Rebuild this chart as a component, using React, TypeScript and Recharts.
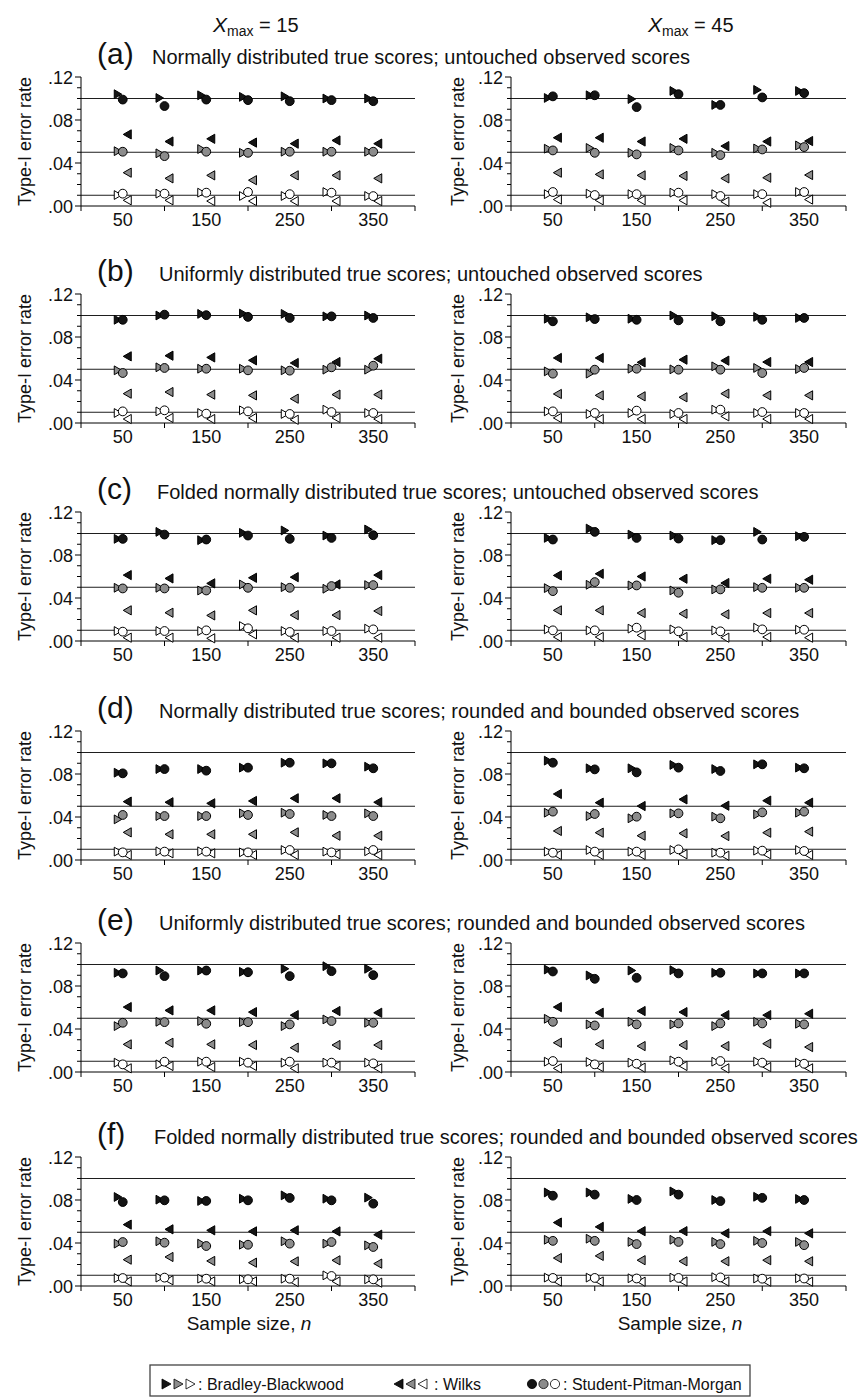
import React from "react";
import { ScatterChart, Scatter, XAxis, YAxis, ReferenceLine } from "recharts";

// sample sizes n and the three nominal alpha levels (.10, .05, .01)
const sampleSizes = [50, 100, 150, 200, 250, 300, 350];
const nominalRates = [0.1, 0.05, 0.01];
const xTicks = [0, 50, 100, 150, 200, 250, 300, 350, 400];
const yTicks = [0, 0.01, 0.02, 0.03, 0.04, 0.05, 0.06, 0.07, 0.08, 0.09, 0.1, 0.11, 0.12];
const levelFills = ["#151515", "#8c8c8c", "#ffffff"];
const columnMax = ["15", "45"];

const panelLetters = ["a", "b", "c", "d", "e", "f"];
const panelTitles = [
  "Normally distributed true scores; untouched observed scores",
  "Uniformly distributed true scores; untouched observed scores",
  "Folded normally distributed true scores; untouched observed scores",
  "Normally distributed true scores; rounded and bounded observed scores",
  "Uniformly distributed true scores; rounded and bounded observed scores",
  "Folded normally distributed true scores; rounded and bounded observed scores",
];

// each array: rows = alpha .10, .05, .01 ; columns = n 50..350
// (a) Xmax = 15
const a15BB = [
  [0.104, 0.1005, 0.103, 0.1015, 0.102, 0.1, 0.1],
  [0.051, 0.049, 0.053, 0.0495, 0.0505, 0.0505, 0.0505],
  [0.0102, 0.0115, 0.0124, 0.0093, 0.0093, 0.013, 0.0093],
];
const a15Wilks = [
  [0.0666, 0.06, 0.0625, 0.059, 0.058, 0.061, 0.058],
  [0.031, 0.0257, 0.0285, 0.024, 0.0285, 0.0285, 0.0257],
  [0.0053, 0.0053, 0.0046, 0.0046, 0.0046, 0.0046, 0.0046],
];
const a15SPM = [
  [0.099, 0.093, 0.099, 0.0985, 0.0975, 0.0985, 0.0975],
  [0.0505, 0.0464, 0.0505, 0.0495, 0.0505, 0.0505, 0.0505],
  [0.0115, 0.0115, 0.0124, 0.013, 0.011, 0.0124, 0.0092],
];
// (a) Xmax = 45
const a45BB = [
  [0.1005, 0.103, 0.0995, 0.107, 0.094, 0.108, 0.107],
  [0.0533, 0.054, 0.0495, 0.054, 0.0495, 0.0535, 0.0563],
  [0.011, 0.0115, 0.011, 0.0124, 0.011, 0.011, 0.013],
];
const a45Wilks = [
  [0.0635, 0.0635, 0.06, 0.0625, 0.0557, 0.06, 0.0604],
  [0.031, 0.0294, 0.0285, 0.028, 0.0257, 0.0263, 0.0288],
  [0.006, 0.0053, 0.0053, 0.0053, 0.004, 0.003, 0.006],
];
const a45SPM = [
  [0.102, 0.103, 0.092, 0.104, 0.094, 0.101, 0.105],
  [0.0517, 0.0495, 0.048, 0.0517, 0.0474, 0.0526, 0.0548],
  [0.013, 0.0102, 0.011, 0.0124, 0.0093, 0.011, 0.013],
];
// (b) Xmax = 15
const b15BB = [
  [0.096, 0.1, 0.1015, 0.1018, 0.1015, 0.0992, 0.1],
  [0.049, 0.0518, 0.0505, 0.0505, 0.049, 0.0496, 0.0496],
  [0.0093, 0.0108, 0.0093, 0.0118, 0.0084, 0.0124, 0.0093],
];
const b15Wilks = [
  [0.062, 0.0626, 0.061, 0.0583, 0.0558, 0.0567, 0.0598],
  [0.0273, 0.0288, 0.0264, 0.0257, 0.0226, 0.0264, 0.0264],
  [0.0037, 0.0047, 0.0037, 0.0047, 0.003, 0.0047, 0.0037],
];
const b15SPM = [
  [0.096, 0.1008, 0.1003, 0.0987, 0.0977, 0.0992, 0.0977],
  [0.0465, 0.0512, 0.0505, 0.049, 0.0487, 0.0518, 0.0533],
  [0.0108, 0.0118, 0.0087, 0.0108, 0.0084, 0.0102, 0.0093],
];
// (b) Xmax = 45
const b45BB = [
  [0.097, 0.0983, 0.097, 0.1, 0.0993, 0.0987, 0.0977],
  [0.048, 0.0459, 0.0505, 0.0499, 0.0527, 0.0512, 0.0502],
  [0.0108, 0.0084, 0.0093, 0.0084, 0.0124, 0.0093, 0.0093],
];
const b45Wilks = [
  [0.0605, 0.0605, 0.0564, 0.0589, 0.058, 0.0567, 0.0567],
  [0.027, 0.0257, 0.0248, 0.0239, 0.0273, 0.0257, 0.0257],
  [0.0047, 0.0037, 0.0037, 0.0037, 0.0062, 0.0037, 0.0037],
];
const b45SPM = [
  [0.0946, 0.0967, 0.096, 0.0955, 0.0946, 0.096, 0.0977],
  [0.0459, 0.0496, 0.0505, 0.0496, 0.0496, 0.0465, 0.0512],
  [0.0108, 0.0093, 0.0115, 0.0093, 0.0124, 0.0102, 0.0093],
];
// (c) Xmax = 15
const c15BB = [
  [0.095, 0.1015, 0.0938, 0.1006, 0.1028, 0.0981, 0.1037],
  [0.0495, 0.0495, 0.047, 0.0526, 0.0501, 0.0486, 0.052],
  [0.0093, 0.0093, 0.0093, 0.0139, 0.0093, 0.0093, 0.0115],
];
const c15Wilks = [
  [0.0613, 0.0582, 0.0536, 0.0588, 0.0594, 0.0526, 0.0613],
  [0.0285, 0.0263, 0.0238, 0.0285, 0.0241, 0.0241, 0.0279],
  [0.0031, 0.0031, 0.0025, 0.0062, 0.0031, 0.0031, 0.0031],
];
const c15SPM = [
  [0.095, 0.099, 0.0944, 0.0981, 0.095, 0.0959, 0.0984],
  [0.0489, 0.0489, 0.047, 0.0495, 0.0495, 0.0511, 0.052],
  [0.0087, 0.0093, 0.0099, 0.0118, 0.0084, 0.0093, 0.0108],
];
// (c) Xmax = 45
const c45BB = [
  [0.0959, 0.1046, 0.099, 0.0981, 0.0938, 0.1015, 0.0975],
  [0.0492, 0.0523, 0.0517, 0.047, 0.048, 0.0501, 0.0495],
  [0.0108, 0.0099, 0.0115, 0.0108, 0.0099, 0.0124, 0.0105],
];
const c45Wilks = [
  [0.061, 0.0625, 0.06, 0.0579, 0.0539, 0.0579, 0.057],
  [0.0285, 0.0285, 0.026, 0.0254, 0.0248, 0.026, 0.026],
  [0.0037, 0.0037, 0.0053, 0.0037, 0.0031, 0.0037, 0.0031],
];
const c45SPM = [
  [0.0944, 0.1015, 0.0959, 0.0953, 0.0938, 0.0944, 0.0969],
  [0.0464, 0.0548, 0.0517, 0.0449, 0.048, 0.0495, 0.0495],
  [0.0099, 0.0099, 0.0124, 0.009, 0.009, 0.0108, 0.0105],
];
// (d) Xmax = 15
const d15BB = [
  [0.0812, 0.0846, 0.0846, 0.0859, 0.0905, 0.0899, 0.0868],
  [0.0378, 0.0409, 0.0409, 0.0434, 0.044, 0.0419, 0.0434],
  [0.0078, 0.0081, 0.0081, 0.0071, 0.0093, 0.0078, 0.0081],
];
const d15Wilks = [
  [0.0543, 0.0537, 0.0527, 0.0549, 0.0574, 0.0574, 0.0537],
  [0.0257, 0.0239, 0.0239, 0.0239, 0.0257, 0.0226, 0.0226],
  [0.0047, 0.0062, 0.0062, 0.0047, 0.0047, 0.0053, 0.0047],
];
const d15SPM = [
  [0.0806, 0.0846, 0.0831, 0.0859, 0.0905, 0.0899, 0.0853],
  [0.0419, 0.0409, 0.0409, 0.0419, 0.0428, 0.0409, 0.0409],
  [0.0071, 0.0078, 0.0078, 0.0071, 0.0093, 0.0071, 0.0093],
];
// (d) Xmax = 45
const d45BB = [
  [0.0924, 0.0853, 0.0853, 0.0884, 0.0846, 0.089, 0.0859],
  [0.044, 0.0409, 0.0388, 0.0434, 0.0403, 0.0425, 0.044],
  [0.0078, 0.0093, 0.0078, 0.0093, 0.0068, 0.0087, 0.0093],
];
const d45Wilks = [
  [0.0614, 0.0533, 0.0502, 0.0564, 0.0505, 0.0552, 0.0533],
  [0.027, 0.0254, 0.0226, 0.0248, 0.0223, 0.0254, 0.0264],
  [0.0047, 0.0047, 0.0047, 0.0053, 0.004, 0.0053, 0.0047],
];
const d45SPM = [
  [0.0905, 0.0843, 0.0815, 0.0859, 0.0828, 0.089, 0.0853],
  [0.045, 0.0428, 0.0403, 0.0434, 0.0388, 0.0443, 0.045],
  [0.0068, 0.0078, 0.0078, 0.0099, 0.0068, 0.0087, 0.0084],
];
// (e) Xmax = 15
const e15BB = [
  [0.0923, 0.0944, 0.0944, 0.0932, 0.096, 0.0984, 0.096],
  [0.0427, 0.0467, 0.0474, 0.0464, 0.0427, 0.0489, 0.0458],
  [0.0087, 0.0071, 0.0096, 0.0096, 0.0087, 0.0087, 0.0087],
];
const e15Wilks = [
  [0.0604, 0.0573, 0.0573, 0.0557, 0.0529, 0.0567, 0.0551],
  [0.0257, 0.0272, 0.0257, 0.0251, 0.0226, 0.0251, 0.0251],
  [0.0034, 0.0056, 0.0046, 0.0056, 0.0034, 0.0056, 0.0034],
];
const e15SPM = [
  [0.0917, 0.0892, 0.0944, 0.0928, 0.0892, 0.0938, 0.0901],
  [0.0458, 0.0464, 0.0449, 0.0464, 0.0443, 0.0474, 0.0458],
  [0.0071, 0.0096, 0.0096, 0.0087, 0.0096, 0.0087, 0.008],
];
// (e) Xmax = 45
const e45BB = [
  [0.0953, 0.0898, 0.0944, 0.0947, 0.0923, 0.0917, 0.0917],
  [0.0495, 0.0443, 0.0467, 0.0443, 0.0427, 0.0467, 0.0449],
  [0.0096, 0.0093, 0.0087, 0.0108, 0.0096, 0.0096, 0.0087],
];
const e45Wilks = [
  [0.0604, 0.0551, 0.0567, 0.0557, 0.0529, 0.0529, 0.0542],
  [0.0272, 0.0257, 0.0241, 0.0251, 0.0241, 0.0263, 0.0232],
  [0.0034, 0.0046, 0.004, 0.0056, 0.0034, 0.0046, 0.0034],
];
const e45SPM = [
  [0.0935, 0.0867, 0.0876, 0.0917, 0.0923, 0.0917, 0.0917],
  [0.0467, 0.0433, 0.0443, 0.0452, 0.0452, 0.0452, 0.0443],
  [0.0102, 0.0071, 0.0077, 0.0096, 0.0102, 0.0087, 0.0077],
];
// (f) Xmax = 15
const f15BB = [
  [0.0828, 0.0803, 0.0791, 0.0812, 0.0843, 0.0812, 0.0822],
  [0.0394, 0.0416, 0.0394, 0.0384, 0.0416, 0.0394, 0.0378],
  [0.0074, 0.0078, 0.0068, 0.0062, 0.0068, 0.0099, 0.0062],
];
const f15Wilks = [
  [0.0571, 0.0527, 0.0518, 0.0508, 0.0518, 0.0508, 0.0477],
  [0.0245, 0.027, 0.0233, 0.0217, 0.0229, 0.0239, 0.0208],
  [0.0043, 0.0053, 0.0043, 0.0043, 0.0037, 0.0043, 0.0031],
];
const f15SPM = [
  [0.0781, 0.0797, 0.0791, 0.0797, 0.0819, 0.0797, 0.0766],
  [0.0409, 0.0403, 0.0372, 0.0384, 0.0394, 0.0409, 0.0363],
  [0.0074, 0.0078, 0.0068, 0.0062, 0.0068, 0.0093, 0.0062],
];
// (f) Xmax = 45
const f45BB = [
  [0.087, 0.087, 0.081, 0.088, 0.08, 0.083, 0.081],
  [0.043, 0.044, 0.041, 0.043, 0.041, 0.042, 0.041],
  [0.0078, 0.0078, 0.0072, 0.0078, 0.0082, 0.007, 0.0072],
];
const f45Wilks = [
  [0.059, 0.055, 0.051, 0.051, 0.049, 0.051, 0.049],
  [0.026, 0.028, 0.024, 0.023, 0.023, 0.024, 0.023],
  [0.0042, 0.0042, 0.004, 0.0042, 0.0042, 0.004, 0.004],
];
const f45SPM = [
  [0.084, 0.085, 0.08, 0.085, 0.079, 0.082, 0.08],
  [0.042, 0.042, 0.039, 0.041, 0.039, 0.04, 0.038],
  [0.0075, 0.0075, 0.007, 0.0075, 0.008, 0.0068, 0.007],
];

const panelSets = [
  [{ bb: a15BB, wilks: a15Wilks, spm: a15SPM }, { bb: a45BB, wilks: a45Wilks, spm: a45SPM }],
  [{ bb: b15BB, wilks: b15Wilks, spm: b15SPM }, { bb: b45BB, wilks: b45Wilks, spm: b45SPM }],
  [{ bb: c15BB, wilks: c15Wilks, spm: c15SPM }, { bb: c45BB, wilks: c45Wilks, spm: c45SPM }],
  [{ bb: d15BB, wilks: d15Wilks, spm: d15SPM }, { bb: d45BB, wilks: d45Wilks, spm: d45SPM }],
  [{ bb: e15BB, wilks: e15Wilks, spm: e15SPM }, { bb: e45BB, wilks: e45Wilks, spm: e45SPM }],
  [{ bb: f15BB, wilks: f15Wilks, spm: f15SPM }, { bb: f45BB, wilks: f45Wilks, spm: f45SPM }],
];

// layout: y of the .12 gridline for each row, title text x
const rowTops = [77, 294, 512, 731, 943, 1157];
const titleTextX = [152, 159, 157, 159, 159, 154];
const FONT = '"Liberation Sans", Arial, Helvetica, sans-serif';

// markers: BB sits left of n, Wilks right of n, circle on n
const BBMarker = ({ cx, cy, fill }: any) => (
  <path d={`M${cx - 8.5},${cy - 4.4} L${cx - 1},${cy} L${cx - 8.5},${cy + 4.4} Z`} fill={fill} stroke="#000" strokeWidth={1} />
);
const WilksMarker = ({ cx, cy, fill }: any) => (
  <path d={`M${cx + 8.5},${cy - 4.6} L${cx + 0.5},${cy} L${cx + 8.5},${cy + 4.6} Z`} fill={fill} stroke="#000" strokeWidth={1} />
);
const SPMMarker = ({ cx, cy, fill }: any) => (
  <circle cx={cx} cy={cy} r={4.4} fill={fill} stroke="#000" strokeWidth={1} />
);

const renderXTick = (props: any) => {
  const { x, y, payload } = props;
  if (payload.value % 100 === 0) return <line x1={x} x2={x} y1={y} y2={y + 5} stroke="#000" />;
  return (
    <text x={x} y={y + 20} textAnchor="middle" fontSize={18} fill="#111" fontFamily={FONT}>
      {payload.value}
    </text>
  );
};

const renderYTick = (props: any) => {
  const { x, y, payload } = props;
  const h = Math.round(payload.value * 100);
  const major = h % 4 === 0;
  return (
    <g>
      <line x1={x - (major ? 6 : 4)} x2={x} y1={y} y2={y} stroke="#000" />
      {major && (
        <text x={x - 8} y={y + 6.5} textAnchor="end" fontSize={18} fill="#111" fontFamily={FONT}>
          {"." + String(h).padStart(2, "0")}
        </text>
      )}
    </g>
  );
};

const renderYLabel = (props: any) => {
  const vb = props.viewBox;
  const x = vb.x + 25;
  const y = vb.y + vb.height / 2;
  return (
    <text x={x} y={y} transform={`rotate(-90 ${x} ${y})`} textAnchor="middle" dominantBaseline="central"
      fontSize={18} fill="#111" fontFamily={FONT}>
      Type-I error rate
    </text>
  );
};

const Panel = ({ sets, col, top }: any) => {
  const series = [
    { key: "bb", Shape: BBMarker, rows: sets.bb },
    { key: "wilks", Shape: WilksMarker, rows: sets.wilks },
    { key: "spm", Shape: SPMMarker, rows: sets.spm },
  ];
  return (
    <div style={{ position: "absolute", left: col * 433, top: top - 10 }}>
      <ScatterChart width={433} height={171} margin={{ top: 10, right: col ? 20 : 18, bottom: 0, left: 0 }}>
        <XAxis type="number" dataKey="n" domain={[0, 400]} ticks={xTicks} interval={0} tick={renderXTick}
          tickLine={false} tickSize={0} tickMargin={0} height={32} axisLine={{ stroke: "#000" }} />
        <YAxis type="number" dataKey="v" domain={[0, 0.12]} ticks={yTicks} interval={0} tick={renderYTick}
          tickLine={false} tickSize={0} tickMargin={0} width={col ? 78 : 81} axisLine={{ stroke: "#000" }}
          label={renderYLabel} />
        {nominalRates.map((r) => (
          <ReferenceLine key={r} y={r} stroke="#1e1e1e" strokeWidth={1} />
        ))}
        {series.flatMap((s) =>
          s.rows.map((row: number[], li: number) => (
            <Scatter
              key={s.key + li}
              data={sampleSizes.map((n, i) => ({ n, v: row[i] }))}
              isAnimationActive={false}
              shape={(p: any) => <s.Shape cx={p.cx} cy={p.cy} fill={levelFills[li]} />}
            />
          ))
        )}
      </ScatterChart>
    </div>
  );
};

const triR = (x: number, y: number, fill: string, key: string) => (
  <path key={key} d={`M${x},${y - 5} L${x + 9},${y} L${x},${y + 5} Z`} fill={fill} stroke="#000" strokeWidth={0.8} />
);
const triL = (x: number, y: number, fill: string, key: string) => (
  <path key={key} d={`M${x + 9},${y - 5} L${x},${y} L${x + 9},${y + 5} Z`} fill={fill} stroke="#000" strokeWidth={0.8} />
);
const dot = (x: number, y: number, fill: string, key: string) => (
  <circle key={key} cx={x + 5} cy={y} r={4.6} fill={fill} stroke="#000" strokeWidth={0.8} />
);

const Overlay = () => {
  const ly = 1384;
  return (
    <svg width={866} height={1397} style={{ position: "absolute", left: 0, top: 0, pointerEvents: "none" }}
      fontFamily={FONT} fill="#111">
      {columnMax.map((m, i) => (
        <text key={m} x={i ? 648 : 213} y={32} fontSize={20}>
          <tspan fontStyle="italic" fontSize={21}>X</tspan>
          <tspan fontSize={14} dy={4}>max</tspan>
          <tspan dy={-4}>{" = " + m}</tspan>
        </text>
      ))}
      {rowTops.map((t, i) => (
        <g key={panelLetters[i]}>
          <text x={97} y={t - 13} fontSize={30}>{`(${panelLetters[i]})`}</text>
          <text x={titleTextX[i]} y={t - 13} fontSize={20}>{panelTitles[i]}</text>
        </g>
      ))}
      {[249, 680].map((cx) => (
        <text key={cx} x={cx} y={1330} fontSize={19} textAnchor="middle">
          Sample size, <tspan fontStyle="italic">n</tspan>
        </text>
      ))}
      <rect x={150} y={1365} width={600} height={31} fill="none" stroke="#444" strokeWidth={1.3} />
      {levelFills.map((f, i) => triR(162 + i * 12, ly, f, "bb" + i))}
      <text x={198} y={ly + 6} fontSize={16}>: Bradley-Blackwood</text>
      {levelFills.map((f, i) => triL(394 + i * 12, ly, f, "w" + i))}
      <text x={434} y={ly + 6} fontSize={16}> : Wilks</text>
      {levelFills.map((f, i) => dot(527 + i * 11.5, ly, f, "s" + i))}
      <text x={563} y={ly + 6} fontSize={16}>: Student-Pitman-Morgan</text>
    </svg>
  );
};

export default function App() {
  return (
    <div style={{ position: "absolute", left: 0, top: 0, width: 866, height: 1397, background: "#fff", fontFamily: FONT }}>
      {rowTops.map((t, r) =>
        panelSets[r].map((sets, c) => <Panel key={`${r}-${c}`} sets={sets} col={c} top={t} />)
      )}
      <Overlay />
    </div>
  );
}
